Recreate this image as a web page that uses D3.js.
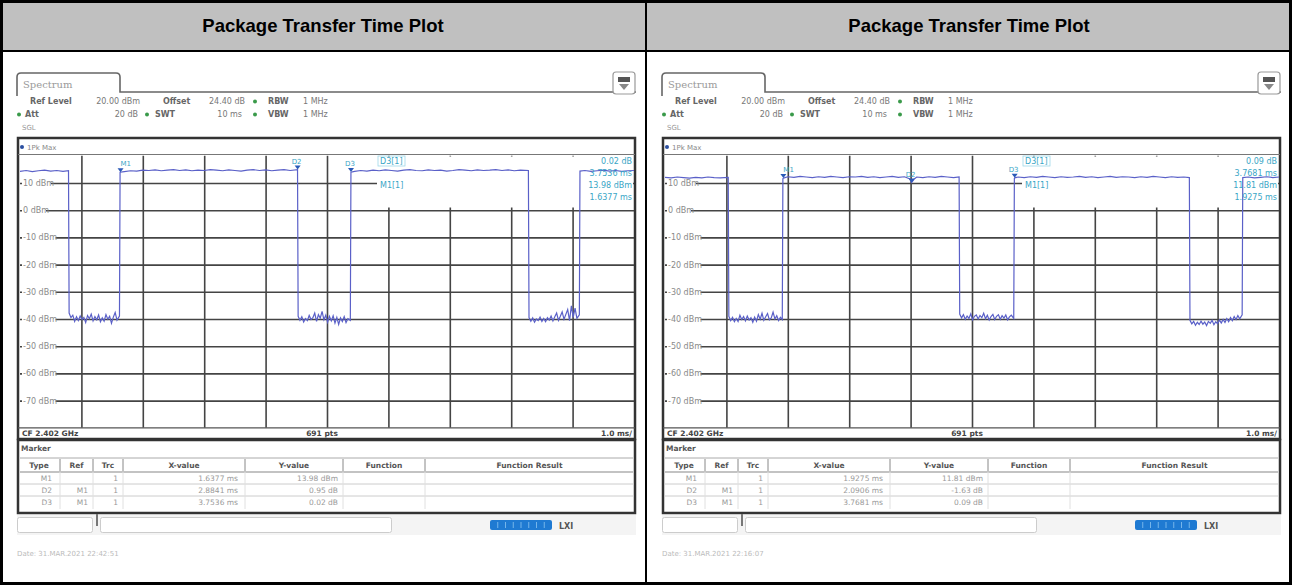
<!DOCTYPE html>
<html><head><meta charset="utf-8">
<script src="https://cdn.jsdelivr.net/npm/d3@7"></script>
<style>body{margin:0;background:#fff}svg{display:block}</style>
</head><body>
<svg id="c" width="1292" height="585"></svg>
<script>
// ---------------- DATA ----------------
const title = "Package Transfer Time Plot";
const timeGrid = [1,2,3,4,5,6,7,8,9];            // ms
const levelGrid = [10,0,-10,-20,-30,-40,-50,-60,-70]; // dBm
const levelLabels = ["10 dBm","0 dBm","-10 dBm","-20 dBm","-30 dBm","-40 dBm","-50 dBm","-60 dBm","-70 dBm"];
const tableColumns = ["Type","Ref","Trc","X-value","Y-value","Function","Function Result"];
const statusLeftText = "CF 2.402 GHz", statusMidText = "691 pts", statusRightText = "1.0 ms/";

const traceLeft = [
 [0.00,14.3],[0.10,14.6],[0.20,14.2],[0.30,14.5],[0.40,14.7],[0.50,14.4],[0.60,14.6],[0.70,14.3],[0.79,14.5],
 [0.80,-37.8],[0.83,-39.5],[0.86,-38.6],[0.89,-40.9],[0.92,-39.2],[0.95,-40.6],[0.98,-38.9],[1.01,-40.2],[1.04,-39.4],
 [1.07,-41.3],[1.10,-38.7],[1.13,-39.9],[1.16,-38.2],[1.19,-40.7],[1.22,-39.1],[1.25,-40.3],[1.28,-38.5],[1.31,-41.0],
 [1.34,-39.6],[1.37,-40.8],[1.40,-38.4],[1.43,-40.1],[1.46,-39.0],[1.49,-41.6],[1.52,-39.3],[1.55,-37.6],[1.58,-40.4],[1.62,-38.9],
 [1.63,13.98],[1.70,14.2],[1.80,14.5],[1.90,14.4],[2.00,14.7],[2.10,14.6],[2.20,14.8],[2.30,14.5],[2.40,14.7],[2.50,14.9],
 [2.60,14.6],[2.70,14.8],[2.80,14.5],[2.90,14.7],[3.00,14.6],[3.10,14.9],[3.20,14.7],[3.30,14.5],[3.40,14.8],[3.50,14.6],
 [3.60,14.4],[3.70,14.7],[3.80,14.9],[3.90,14.6],[4.00,14.8],[4.10,14.5],[4.20,14.7],[4.30,14.9],[4.40,14.6],[4.52,14.93],
 [4.53,-39.0],[4.56,-40.5],[4.59,-39.2],[4.62,-41.1],[4.65,-39.8],[4.68,-40.6],[4.71,-38.7],[4.74,-40.2],[4.77,-39.5],
 [4.80,-37.8],[4.83,-40.9],[4.86,-38.4],[4.89,-39.7],[4.92,-37.2],[4.95,-40.3],[4.98,-38.6],[5.01,-41.2],[5.04,-39.0],
 [5.07,-40.7],[5.10,-38.8],[5.13,-41.5],[5.16,-39.4],[5.19,-42.0],[5.22,-39.6],[5.25,-40.9],[5.28,-39.1],[5.31,-41.3],[5.34,-39.9],[5.38,-40.5],
 [5.39,14.0],[5.45,14.3],[5.55,14.6],[5.65,14.4],[5.75,14.7],[5.85,14.5],[5.95,14.8],[6.05,14.6],[6.15,14.4],[6.25,14.7],
 [6.35,14.9],[6.45,14.6],[6.55,14.5],[6.65,14.8],[6.75,14.6],[6.85,14.7],[6.95,14.4],[7.05,14.6],[7.15,14.9],[7.25,14.7],
 [7.35,14.5],[7.45,14.8],[7.55,14.6],[7.65,14.7],[7.75,14.9],[7.85,14.6],[7.95,14.8],[8.05,14.5],[8.15,14.7],[8.28,14.6],
 [8.29,-39.5],[8.32,-40.8],[8.35,-39.6],[8.38,-41.2],[8.41,-40.0],[8.44,-40.6],[8.47,-39.3],[8.50,-40.9],[8.53,-39.8],
 [8.56,-41.0],[8.59,-39.5],[8.62,-40.4],[8.65,-38.9],[8.68,-40.7],[8.71,-39.2],[8.74,-37.8],[8.77,-40.5],[8.80,-39.0],
 [8.83,-37.4],[8.86,-40.1],[8.89,-38.3],[8.92,-36.5],[8.95,-40.6],[8.98,-35.2],[9.01,-39.4],[9.04,-36.0],[9.07,-39.8],[9.11,-38.5],
 [9.12,14.4],[9.20,14.6],[9.30,14.3],[9.40,14.5],[9.50,14.7],[9.60,14.4],[9.70,14.6],[9.80,14.3],[9.90,14.5],[10.00,14.6]
];
const traceRight = [
 [0.00,12.1],[0.10,11.9],[0.20,12.2],[0.30,12.0],[0.40,11.8],[0.50,12.1],[0.60,11.9],[0.70,12.2],[0.80,12.0],[0.90,11.9],[1.03,12.1],
 [1.04,-39.0],[1.07,-40.6],[1.10,-39.4],[1.13,-41.0],[1.16,-39.8],[1.19,-40.9],[1.22,-38.6],[1.25,-40.2],[1.28,-39.1],[1.31,-40.7],
 [1.34,-38.9],[1.37,-40.4],[1.40,-39.5],[1.43,-41.2],[1.46,-39.3],[1.49,-40.8],[1.52,-38.4],[1.55,-40.1],[1.58,-37.9],[1.61,-40.5],
 [1.64,-39.2],[1.67,-38.0],[1.70,-40.3],[1.73,-39.6],[1.76,-37.5],[1.79,-40.0],[1.82,-38.8],[1.85,-40.6],[1.88,-39.4],[1.91,-40.2],
 [1.92,11.6],[1.93,11.81],[2.00,12.3],[2.10,12.1],[2.20,12.4],[2.30,12.2],[2.40,12.0],[2.50,12.3],[2.60,12.1],[2.70,12.4],
 [2.80,12.2],[2.90,12.0],[3.00,12.3],[3.10,12.2],[3.20,12.4],[3.30,12.1],[3.40,12.3],[3.50,12.0],[3.60,12.2],[3.70,12.4],
 [3.80,12.1],[3.90,12.3],[3.98,11.6],[4.018,10.18],[4.06,11.5],[4.10,12.2],[4.20,12.0],[4.30,12.3],[4.40,12.1],[4.50,12.4],[4.60,12.2],[4.70,12.0],[4.79,12.2],
 [4.80,-38.2],[4.83,-39.6],[4.86,-38.4],[4.89,-40.1],[4.92,-38.9],[4.95,-39.8],[4.98,-38.1],[5.01,-40.3],[5.04,-39.0],[5.07,-38.5],
 [5.10,-40.0],[5.13,-38.7],[5.16,-39.5],[5.19,-37.9],[5.22,-39.9],[5.25,-38.6],[5.28,-40.4],[5.31,-39.1],[5.34,-38.3],[5.37,-40.2],
 [5.40,-39.0],[5.43,-38.4],[5.46,-40.1],[5.49,-38.8],[5.52,-39.7],[5.55,-38.5],[5.58,-40.3],[5.61,-39.2],[5.64,-38.6],[5.68,-39.8],
 [5.69,11.7],[5.6956,11.90],[5.75,12.2],[5.85,12.0],[5.95,12.3],[6.05,12.1],[6.15,12.4],[6.25,12.2],[6.35,12.0],[6.45,12.3],
 [6.55,12.1],[6.65,12.2],[6.75,12.4],[6.85,12.1],[6.95,12.3],[7.05,12.0],[7.15,12.2],[7.25,12.4],[7.35,12.1],[7.45,12.3],
 [7.55,12.2],[7.65,12.0],[7.75,12.3],[7.85,12.1],[7.95,12.4],[8.05,12.2],[8.15,12.0],[8.25,12.3],[8.35,12.1],[8.45,12.2],[8.54,12.0],
 [8.55,-40.5],[8.58,-41.8],[8.61,-40.9],[8.64,-42.3],[8.67,-41.2],[8.70,-42.0],[8.73,-40.8],[8.76,-41.9],[8.79,-41.1],[8.82,-42.4],
 [8.85,-40.9],[8.88,-41.6],[8.91,-40.5],[8.94,-42.1],[8.97,-41.0],[9.00,-41.7],[9.03,-40.4],[9.06,-41.5],[9.09,-40.2],[9.12,-41.3],
 [9.15,-39.8],[9.18,-41.0],[9.21,-39.5],[9.24,-40.6],[9.27,-39.1],[9.30,-40.2],[9.33,-38.7],[9.36,-39.9],[9.40,-38.5],
 [9.41,12.0],[9.50,12.2],[9.60,11.9],[9.70,12.1],[9.80,12.3],[9.90,12.0],[10.00,12.2]
];

const markersLeft = [["M1",1.6377,13.98],["D2",4.5218,14.93],["D3",5.3913,14.00]];
const markersRight = [["M1",1.9275,11.81],["D2",4.0181,10.18],["D3",5.6956,11.90]];

const rowsLeft = [["M1","","1","1.6377 ms","13.98 dBm"],["D2","M1","1","2.8841 ms","0.95 dB"],["D3","M1","1","3.7536 ms","0.02 dB"]];
const rowsRight = [["M1","","1","1.9275 ms","11.81 dBm"],["D2","M1","1","2.0906 ms","-1.63 dB"],["D3","M1","1","3.7681 ms","0.09 dB"]];

const readoutLeft = [["D3[1]","0.02 dB","3.7536 ms"],["M1[1]","13.98 dBm","1.6377 ms"]];
const readoutRight = [["D3[1]","0.09 dB","3.7681 ms"],["M1[1]","11.81 dBm","1.9275 ms"]];

const dateLeft = "Date: 31.MAR.2021  22:42:51";
const dateRight = "Date: 31.MAR.2021  22:16:07";

// ---------------- DRAW ----------------
const svg = d3.select("#c");
const W = 1292, H = 585;
const FONT = "'DejaVu Sans', sans-serif";

svg.append("rect").attr("x",0).attr("y",0).attr("width",W).attr("height",H).attr("fill","#fff");
svg.append("rect").attr("x",1.5).attr("y",1.5).attr("width",W-3).attr("height",49).attr("fill","#c0c0c0");
svg.append("rect").attr("x",1.5).attr("y",1.5).attr("width",W-3).attr("height",H-3).attr("fill","none").attr("stroke","#000").attr("stroke-width",3);
svg.append("line").attr("x1",0).attr("x2",W).attr("y1",51).attr("y2",51).attr("stroke","#000").attr("stroke-width",2);
svg.append("line").attr("x1",646).attr("x2",646).attr("y1",0).attr("y2",H).attr("stroke","#000").attr("stroke-width",2);
[323,969].forEach(cx => svg.append("text").attr("x",cx).attr("y",32).attr("text-anchor","middle")
  .attr("font-family","'Liberation Sans', Arial, sans-serif").attr("font-weight","bold").attr("font-size",18.5).attr("fill","#000").text(title));

function txt(g, x, y, s, o={}) {
  return g.append("text").attr("x",x).attr("y",y).text(s)
    .attr("font-family",FONT).attr("font-size",o.size||8)
    .attr("font-weight",o.bold?"bold":"normal").attr("fill",o.fill||"#777")
    .attr("text-anchor",o.anchor||"start");
}
function dot(g,x,y,c){ g.append("circle").attr("cx",x).attr("cy",y).attr("r",2).attr("fill",c||"#3a9a4a"); }

function drawPanel(ox, trace, markers, rows, readout, dateStr) {
  const g = svg.append("g").attr("transform",`translate(${ox},0)`);
  const x = d3.scaleLinear().domain([0,10]).range([20,634]);
  const y = d3.scaleLinear().domain([20,-80]).range([155.8,427.8]);

  g.append("path").attr("d","M17,96 L17,77 Q17,73 21,73 L116,73 Q120,73 120,77 L120,92 L636,92")
    .attr("fill","none").attr("stroke","#666").attr("stroke-width",1.6);
  txt(g,23,88,"Spectrum",{size:10,fill:"#9a9a9a"}).attr("font-family","'DejaVu Serif', serif");
  g.append("rect").attr("x",613).attr("y",72).attr("width",22).attr("height",22).attr("rx",3).attr("fill","#fff").attr("stroke","#999").attr("stroke-width",1.2);
  g.append("rect").attr("x",618).attr("y",77).attr("width",12).attr("height",5).attr("fill","#555");
  g.append("path").attr("d","M619,84 L629,84 L624,90 Z").attr("fill","#888");

  txt(g,30,104,"Ref Level",{bold:true,fill:"#666"});
  txt(g,140,104,"20.00 dBm",{anchor:"end"});
  txt(g,163,104,"Offset",{bold:true,fill:"#666"});
  txt(g,245,104,"24.40 dB",{anchor:"end"});
  dot(g,255,101.5);
  txt(g,268,104,"RBW",{bold:true,fill:"#666"});
  txt(g,303,104,"1 MHz");
  dot(g,19,114.5);
  txt(g,25,117,"Att",{bold:true,fill:"#666"});
  txt(g,138,117,"20 dB",{anchor:"end"});
  dot(g,147,114.5);
  txt(g,155,117,"SWT",{bold:true,fill:"#666"});
  txt(g,242,117,"10 ms",{anchor:"end"});
  dot(g,255,114.5);
  txt(g,268,117,"VBW",{bold:true,fill:"#666"});
  txt(g,303,117,"1 MHz");
  txt(g,22,130,"SGL",{size:7,fill:"#999"});

  g.append("rect").attr("x",18).attr("y",138).attr("width",617).attr("height",301).attr("fill","#fff").attr("stroke","#333").attr("stroke-width",2.5);
  dot(g,22,147,"#2b4fa0");
  txt(g,27,150,"1Pk Max",{size:7,fill:"#888"});
  g.append("line").attr("x1",18).attr("x2",635).attr("y1",154.5).attr("y2",154.5).attr("stroke","#777").attr("stroke-width",1.2);

  const gridColor = "#444";
  const gy = g.append("g").attr("transform","translate(20,0)")
    .call(d3.axisRight(y).tickValues(levelGrid).tickSize(614).tickFormat(""));
  gy.select(".domain").remove();
  gy.selectAll("line").attr("stroke",gridColor).attr("stroke-width",1.6);
  const gx = g.append("g").attr("transform","translate(0,155.8)")
    .call(d3.axisBottom(x).tickValues(timeGrid).tickSize(427.8-155.8).tickFormat(""));
  gx.select(".domain").remove();
  gx.selectAll("line").attr("stroke",gridColor).attr("stroke-width",1.6);

  levelGrid.forEach((v,i) => {
    const w = levelLabels[i].length*4.8;
    g.append("rect").attr("x",22).attr("y",y(v)-5).attr("width",w).attr("height",9).attr("fill","#fff");
    txt(g,23,y(v)+3,levelLabels[i],{size:8,fill:"#8a8a8a"});
  });

  g.append("rect").attr("x",377).attr("y",156.5).attr("width",256).attr("height",51).attr("fill","#fff");

  g.append("line").attr("x1",18).attr("x2",635).attr("y1",427.8).attr("y2",427.8).attr("stroke","#555").attr("stroke-width",1.2);
  txt(g,22,436,statusLeftText,{size:7.5,fill:"#444",bold:true});
  txt(g,322,436,statusMidText,{size:7.5,fill:"#444",bold:true,anchor:"middle"});
  txt(g,632,436,statusRightText,{size:7.5,fill:"#444",bold:true,anchor:"end"});

  const line = d3.line().x(d=>x(d[0])).y(d=>y(d[1]));
  g.append("path").datum(trace).attr("d",line).attr("fill","none").attr("stroke","#5a60c8").attr("stroke-width",1.2);

  markers.forEach(m => {
    const mx = x(m[1]), my = y(m[2]);
    g.append("path").attr("d",`M${mx-3},${my-4} L${mx+3},${my-4} L${mx},${my} Z`).attr("fill","#2a5ab8");
    txt(g,mx-(m[0]==="M1"?0:6),my-6,m[0],{size:7,fill:"#3aa6c6"});
  });

  readout.forEach((r,i) => {
    const yy = 164 + i*24;
    const t = txt(g,380,yy,r[0],{size:8,fill:"#3aa6c6"});
    if (i===0) g.append("rect").attr("x",378).attr("y",yy-8).attr("width",27).attr("height",10).attr("fill","none").attr("stroke","#9fd8e8").attr("stroke-width",0.8);
    txt(g,632,yy,r[1],{size:8,fill:"#3aa6c6",anchor:"end"});
    txt(g,632,yy+12,r[2],{size:8,fill:"#3aa6c6",anchor:"end"});
  });

  g.append("rect").attr("x",18).attr("y",440).attr("width",617).attr("height",73).attr("fill","#fff").attr("stroke","#333").attr("stroke-width",2.5);
  txt(g,21,451,"Marker",{size:7.5,fill:"#555",bold:true});
  const colX = [18,60,93,123,245,343,425,634];
  g.append("line").attr("x1",20).attr("x2",633).attr("y1",458).attr("y2",458).attr("stroke","#aaa");
  g.append("line").attr("x1",20).attr("x2",633).attr("y1",472).attr("y2",472).attr("stroke","#888").attr("stroke-width",1.2);
  [484,496].forEach(yy => g.append("line").attr("x1",20).attr("x2",633).attr("y1",yy).attr("y2",yy).attr("stroke","#ccc"));
  colX.slice(1,-1).forEach(cx => g.append("line").attr("x1",cx).attr("x2",cx).attr("y1",459).attr("y2",471).attr("stroke","#888"));
  colX.slice(1,-1).forEach(cx => g.append("line").attr("x1",cx).attr("x2",cx).attr("y1",472).attr("y2",509).attr("stroke","#e0e0e0"));
  tableColumns.forEach((c,i) => txt(g,(colX[i]+colX[i+1])/2,468,c,{size:7.5,fill:"#555",bold:true,anchor:"middle"}));
  const rightX = [52,88,118,238,338];
  rows.forEach((r,ri) => r.forEach((v,ci) => txt(g,rightX[ci],481+ri*12,v,{size:7.5,fill:"#999",anchor:"end"})));

  g.append("rect").attr("x",17).attr("y",515).attr("width",619).attr("height",20).attr("fill","#f4f4f4");
  g.append("rect").attr("x",17.5).attr("y",517.5).attr("width",75).attr("height",15).attr("rx",2).attr("fill","#fff").attr("stroke","#ccc");
  g.append("line").attr("x1",97).attr("x2",97).attr("y1",514).attr("y2",526).attr("stroke","#777").attr("stroke-width",2);
  g.append("rect").attr("x",100.5).attr("y",517.5).attr("width",291).attr("height",15).attr("rx",2).attr("fill","#fff").attr("stroke","#ccc");
  g.append("rect").attr("x",490).attr("y",520).attr("width",62).attr("height",10).attr("rx",2).attr("fill","#1f7ad2");
  d3.range(1,8).forEach(i => g.append("line").attr("x1",490+i*62/8).attr("x2",490+i*62/8).attr("y1",522).attr("y2",528).attr("stroke","#8cc4f0").attr("stroke-width",0.8));
  txt(g,559,529,"LXI",{size:8,bold:true,fill:"#555"});

  txt(g,17,556,dateStr,{size:7,fill:"#bbb"});
}

drawPanel(0, traceLeft, markersLeft, rowsLeft, readoutLeft, dateLeft);
drawPanel(645, traceRight, markersRight, rowsRight, readoutRight, dateRight);
</script>
</body></html>
